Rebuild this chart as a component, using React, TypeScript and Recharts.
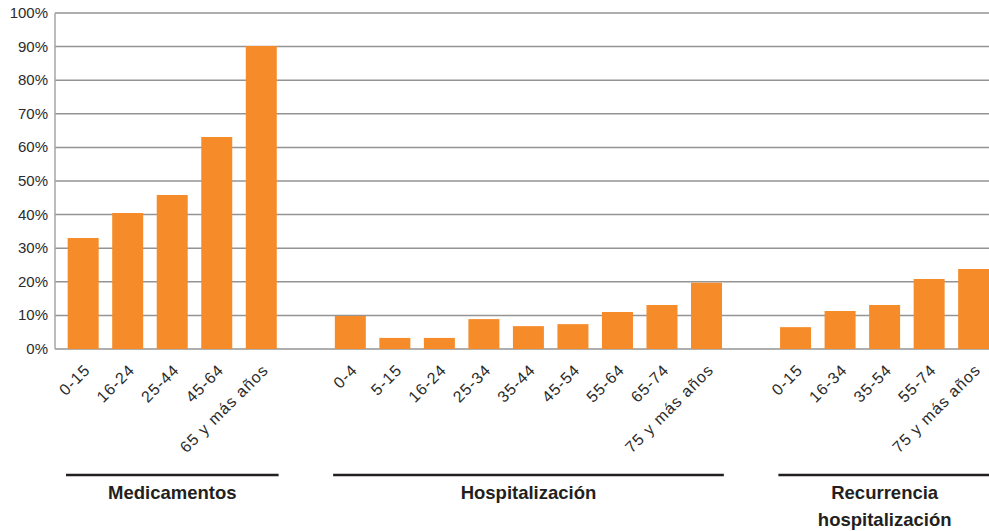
import { BarChart, Bar, XAxis, YAxis, CartesianGrid } from "recharts";

const medCats = ["0-15", "16-24", "25-44", "45-64", "65 y más años"];
const medVals = [33.0, 40.5, 45.8, 63.1, 90.2];

const hospCats = ["0-4", "5-15", "16-24", "25-34", "35-44", "45-54", "55-64", "65-74", "75 y más años"];
const hospVals = [9.8, 3.3, 3.3, 8.9, 6.8, 7.4, 11.0, 13.1, 19.7];

const recCats = ["0-15", "16-34", "35-54", "55-74", "75 y más años"];
const recVals = [6.5, 11.3, 13.1, 20.8, 23.8];

const groupNames = ["Medicamentos", "Hospitalización", "Recurrencia hospitalización"];
const yTicks = [0, 10, 20, 30, 40, 50, 60, 70, 80, 90, 100];

const FONT = "Arial, Helvetica, sans-serif";
const CHART_W = 996;
const CHART_H = 531;
const Y_W = 55;
const PAD_LEFT = 6;

type Row = { id: string; label: string; value: number | null };

// build rows with an empty slot between groups
const groupsData = [
  { cats: medCats, vals: medVals },
  { cats: hospCats, vals: hospVals },
  { cats: recCats, vals: recVals },
];
const rows: Row[] = [];
const groupMids: { index: number; count: number; name: string }[] = [];
groupsData.forEach((g, gi) => {
  if (gi > 0) rows.push({ id: `gap${gi}`, label: "", value: null });
  const start = rows.length;
  g.cats.forEach((c, i) => rows.push({ id: `g${gi}-${i}`, label: c, value: g.vals[i] }));
  groupMids.push({ index: start + (g.cats.length - 1) / 2, count: g.cats.length, name: groupNames[gi] });
});

const SLOT = (CHART_W - Y_W - PAD_LEFT) / rows.length;

function CategoryTick(props: any) {
  const { x, y, index } = props;
  const row = rows[index];
  const grp = groupMids.find((g) => g.index === index);
  const px = x + 8;
  const py = y + 22;
  return (
    <g>
      {row && row.label && (
        <text
          x={px}
          y={py}
          textAnchor="end"
          transform={`rotate(-45, ${px}, ${py})`}
          style={{ fontSize: 16, fontFamily: FONT, letterSpacing: 1 }}
          fill="#2b2b2b"
        >
          {row.label}
        </text>
      )}
      {grp && (
        <g>
          <line
            x1={x - (grp.count * SLOT) / 2 + 5}
            x2={x + (grp.count * SLOT) / 2 - 5}
            y1={y + 126}
            y2={y + 126}
            stroke="#231f20"
            strokeWidth={2.5}
          />
          {grp.name.split(" ").map((w, i) => (
            <text
              key={i}
              x={x}
              y={y + 150 + i * 27}
              textAnchor="middle"
              style={{ fontSize: 18.5, fontWeight: "bold", fontFamily: FONT }}
              fill="#231f20"
            >
              {w}
            </text>
          ))}
        </g>
      )}
    </g>
  );
}

function PercentTick(props: any) {
  const { x, y, payload } = props;
  return (
    <text x={x} y={y} dy={5} textAnchor="end" style={{ fontSize: 15, fontFamily: FONT }} fill="#2b2b2b">
      {`${payload.value}%`}
    </text>
  );
}

export default function App() {
  return (
    <div style={{ width: 989, height: 531, overflow: "hidden", background: "#fff", fontFamily: FONT }}>
      <style>{`body{margin:0}`}</style>
      <BarChart
        width={CHART_W}
        height={CHART_H}
        data={rows}
        margin={{ top: 13, right: 0, left: 0, bottom: 0 }}
        barCategoryGap="15%"
      >
        <CartesianGrid vertical={false} stroke="#949494" strokeWidth={1.5} />
        <XAxis
          dataKey="id"
          interval={0}
          height={182}
          tickLine={false}
          axisLine={false}
          tickSize={0}
          tickMargin={0}
          padding={{ left: PAD_LEFT, right: 0 }}
          tick={<CategoryTick />}
        />
        <YAxis
          width={Y_W}
          domain={[0, 100]}
          ticks={yTicks}
          interval={0}
          tickLine={false}
          tickSize={0}
          tickMargin={7}
          axisLine={{ stroke: "#a6a6a6", strokeWidth: 1.5 }}
          tick={<PercentTick />}
        />
        <Bar dataKey="value" fill="#F68B2A" isAnimationActive={false} />
      </BarChart>
    </div>
  );
}
